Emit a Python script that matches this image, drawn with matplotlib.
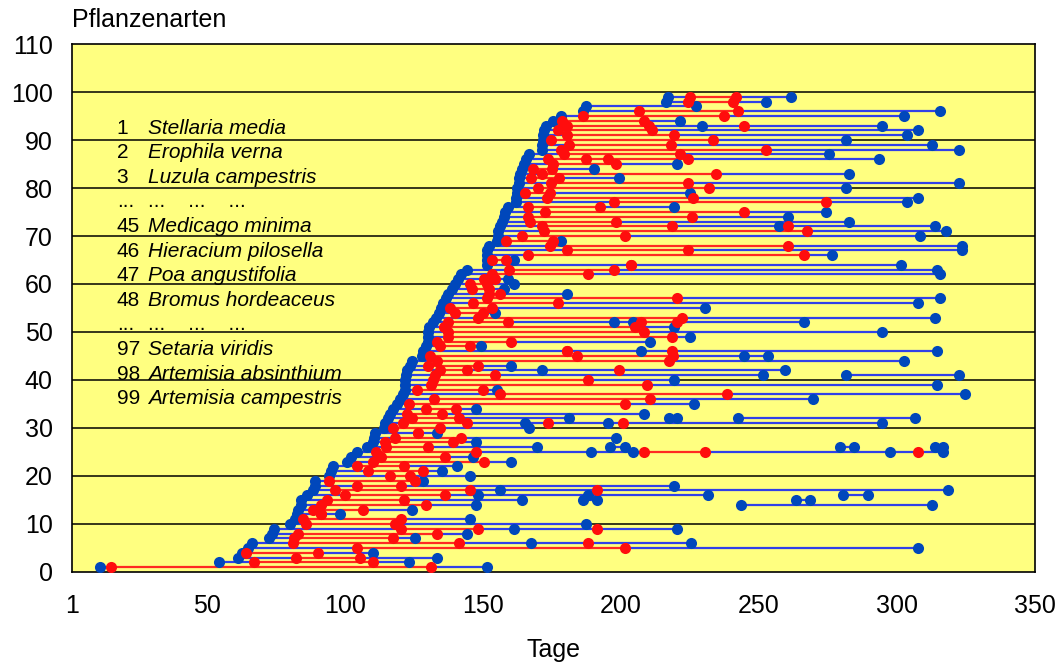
import numpy as np
import matplotlib.pyplot as plt

plt.rcParams['font.family'] = ['Liberation Sans', 'DejaVu Sans']

nan = np.nan
# one row per species: start (blue), flowering start/end (red), end (blue)
starts = [11, 54.2, 61.3, 62.5, 64.9, 66.1, 72.5, 73.4, 74.2, 80,
          81.8, 82.4, 83, 84, 84.2, 86.1, 88.2, 89, 89.1, 94.3,
          95, 95.7, 100.6, 102, 104.2, 108, 110, 110.5, 111, 114,
          114.4, 115.5, 116.2, 117.2, 118.9, 120, 121.1, 121.7, 121.7, 121.7,
          122, 122.5, 123.5, 124.1, 128, 128.3, 129.5, 130, 130.1, 130.1,
          130.5, 131.9, 133.1, 134, 134.6, 135.6, 136.5, 137.4, 138.6, 139.8,
          141, 142.2, 144.3, 151.3, 151.3, 151.3, 151.5, 152.2, 155.1, 155.3,
          155.5, 156.3, 157, 157.5, 157.9, 159.2, 162.1, 162.1, 162.4, 162.4,
          162.9, 163.1, 163.3, 164, 164.8, 165.5, 166.5, 171.3, 171.3, 171.6,
          171.8, 172.2, 173, 175.2, 178.2, 186.3, 187.3, 216.5, 217.2]
red_on = [15, 67.1, 82.2, 64, 104.2, 81.2, 81.5, 83, 120.1, 86,
          84.8, 91.1, 88.2, 91.1, 93.3, 100, 96.3, 104.2, 94.2, 116.2,
          108.2, 104.2, 110.2, 113.2, 111.2, 115, 114.4, 118, 126.5, 117.5,
          121, 124.1, 122.3, 129.3, 123.2, 132.2, 156.3, 126, 131.3, 131.9,
          132.5, 134.3, 130.1, 133.4, 130.7, 180.3, 134.3, 133.4, 137.4, 137.4,
          136, 137.4, 148.2, 140, 138.2, 146.2, 151.3, 152.2, 146, 145.2,
          150.3, 153.4, 159.4, 203.5, 153.4, 166.4, 180.3, 174.2, 158.3, 164.3,
          172, 171.3, 167.2, 166.4, 172.3, 166.4, 197.4, 173.3, 165.3, 170,
          174.5, 167.3, 171.3, 168, 175.4, 173.6, 179.3, 178.4, 181.2, 174.5,
          180.5, 177.2, 180.3, 178.8, 186.3, 206.4, nan, 224.4, 225.2]
red_off = [131.2, 110.2, 105.4, 90.3, 201.4, 141.2, 117.2, 133.4, 148.2, 118,
           120.1, 91.1, 106.4, 129.3, 121.3, 136.2, 145.2, 120.1, 125.3, 123.5,
           128.3, 121.3, 150.3, 136.3, 147.3, 130.2, 139.2, 142.2, 126.5, 134.3,
           144.3, 141.4, 135.3, 140.1, 201.4, 210.5, 238.5, 150, 209.3, 188.2,
           154.3, 144.3, 148.2, 217.5, 218.9, 180.3, 145.2, 160, 218.4, 208.3,
           205, 159.2, 222.3, 150, 153.4, 177.2, 220.5, 156.3, 152, 151.5,
           154.3, 188.2, 197.4, 203.5, 158.3, 266.4, 224.5, 260.4, 175.2, 201.4,
           267.5, 218.4, 198.4, 225.6, 244.6, 192.3, 274.5, 226, 174.2, 232,
           224.4, 177.4, 234.4, 175, 198.4, 224.4, 221.3, 252.5, 218.3, 233.5,
           219.4, 211.4, 210.2, 208.3, 237.4, 242.5, nan, 240.5, 241.6]
ends = [151.3, 123.2, 133.4, 110.2, 307.6, 225.4, 125.3, 144.3, 220.5, 187.5,
        145.2, 98.1, 124.2, 147.3, 164.3, 231.6, 318.6, 219.3, 128.3, 145.2,
        135.3, 140.4, 160.3, 146.4, 316.8, 169.4, 147.3, 198.4, 133.4, 166.5,
        294.6, 181.2, 208.3, 147.3, 226.4, 269.6, 324.7, 155.1, 314.6, 219.4,
        251.6, 259.6, 160.3, 302.7, 253.5, 314.6, 149.2, 210.5, 225, 294.6,
        219.4, 266.4, 313.7, 154.3, 230.4, 307.6, 315.6, 180.3, 157.5, 161.3,
        159.2, 315.6, 314.6, 301.6, 161.3, 276.6, 323.7, 323.7, 178.3, 308.6,
        317.7, 313.7, 282.6, 260.4, 274.5, 219.4, 303.7, 307.6, 225, 281.7,
        322.6, 199.2, 282.6, 190.3, 220.5, 293.6, 275.6, 322.6, 312.7, 281.7,
        303.7, 307.6, 294.6, 221.3, 302.7, 315.6, 227.4, 252.5, 261.6]

# additional observations on a row: (row, day, 'b' or 'r')
extra = [(6, 167.3, 'b'), (6, 188.2, 'r'), (9, 161.3, 'b'), (9, 191.3, 'r'),
         (16, 148.2, 'b'), (16, 188.2, 'b'), (17, 156.3, 'b'), (17, 191.3, 'r'),
         (25, 189.2, 'b'), (25, 204.4, 'b'), (25, 208.3, 'r'), (25, 230.4, 'r'),
         (25, 297.5, 'b'), (25, 307.6, 'r'),
         (31, 165.3, 'b'), (31, 173.4, 'r'), (31, 195.2, 'b'), (31, 200.6, 'r'),
         (42, 171.3, 'b'), (42, 199.3, 'r'), (45, 184.2, 'r'), (45, 244.6, 'b'),
         (46, 207.4, 'b'), (46, 218.4, 'r'),
         (52, 197.4, 'b'), (52, 204.4, 'b'), (52, 207.4, 'r'), (52, 220.5, 'r'),
         (72, 257.4, 'b'), (72, 260.4, 'r'), (86, 187.5, 'r'), (86, 195.2, 'r'),
         (93, 229.5, 'b'), (93, 244.5, 'r')]
# separate blue pieces
pieces = [(14, 243.5, 312.7), (15, 263.4, 268.6), (15, 186.3, 191.3),
          (16, 280.6, 289.6), (26, 196.2, 201.4), (26, 279.6, 284.6),
          (26, 313.7, 316.8), (32, 217.5, 220.5), (32, 242.5, 306.7),
          (41, 281.7, 322.6)]

legend_lines = ['1', '2', '3', '...', '45', '46', '47', '48', '...', '97', '98', '99']
legend_names = ['Stellaria media', 'Erophila verna', 'Luzula campestris', '...    ...    ...',
                'Medicago minima', 'Hieracium pilosella', 'Poa angustifolia',
                'Bromus hordeaceus', '...    ...    ...', 'Setaria viridis',
                'Artemisia absinthium', 'Artemisia campestris']

line_blue = '#3040e8'
line_red = '#ff2a22'
dot_blue = '#0047bb'
dot_red = '#ff0d0d'

fig = plt.figure(figsize=(10.59, 6.64), dpi=100)
ax = fig.add_axes([0.068, 0.1386, 0.909, 0.7951])
ax.set_facecolor('#ffff80')

for v in range(10, 110, 10):
    ax.axhline(v, color='black', lw=1.1, zorder=1)

bx, by, rx, ry = [], [], [], []
for i in range(len(starts)):
    y = i + 1
    pts = [(starts[i], 'b'), (ends[i], 'b')]
    if not np.isnan(red_on[i]):
        pts += [(red_on[i], 'r'), (red_off[i], 'r')]
    pts += [(x, c) for (r, x, c) in extra if r == y]
    pts.sort()
    for (x1, c1), (x2, c2) in zip(pts[:-1], pts[1:]):
        col = line_red if (c1 == 'r' and c2 == 'r') else line_blue
        ax.plot([x1, x2], [y, y], color=col, lw=1.6, zorder=2)
    for x, c in pts:
        if c == 'b':
            bx.append(x); by.append(y)
        else:
            rx.append(x); ry.append(y)

for r, x1, x2 in pieces:
    ax.plot([x1, x2], [r, r], color=line_blue, lw=1.6, zorder=2)
    bx += [x1, x2]; by += [r, r]

ax.plot(bx, by, 'o', color=dot_blue, ms=8, mec='none', zorder=3)
ax.plot(rx, ry, 'o', color=dot_red, ms=8, mec='none', zorder=4)

for k, (n, name) in enumerate(zip(legend_lines, legend_names)):
    yy = 92.5 - k * 5.13
    ax.text(17.2, yy, n, fontsize=15, va='center', ha='left', zorder=5)
    if name.startswith('...'):
        ax.text(28.5, yy, name, fontsize=15, va='center', ha='left', zorder=5)
    else:
        ax.text(28.5, yy, name, fontsize=15, style='italic', va='center', ha='left', zorder=5)

ax.set_xlim(1, 350)
ax.set_ylim(0, 110)
ax.set_xticks([1, 50, 100, 150, 200, 250, 300, 350])
ax.set_yticks(range(0, 111, 10))
ax.tick_params(labelsize=18, length=0)
ax.tick_params(axis='x', pad=16)
ax.tick_params(axis='y', pad=14)
for s in ax.spines.values():
    s.set_linewidth(1.2)

ax.set_xlabel('Tage', fontsize=18, labelpad=14)
fig.text(0.068, 0.952, 'Pflanzenarten', fontsize=18, ha='left', va='bottom')

fig.savefig('out.png', dpi=100)
